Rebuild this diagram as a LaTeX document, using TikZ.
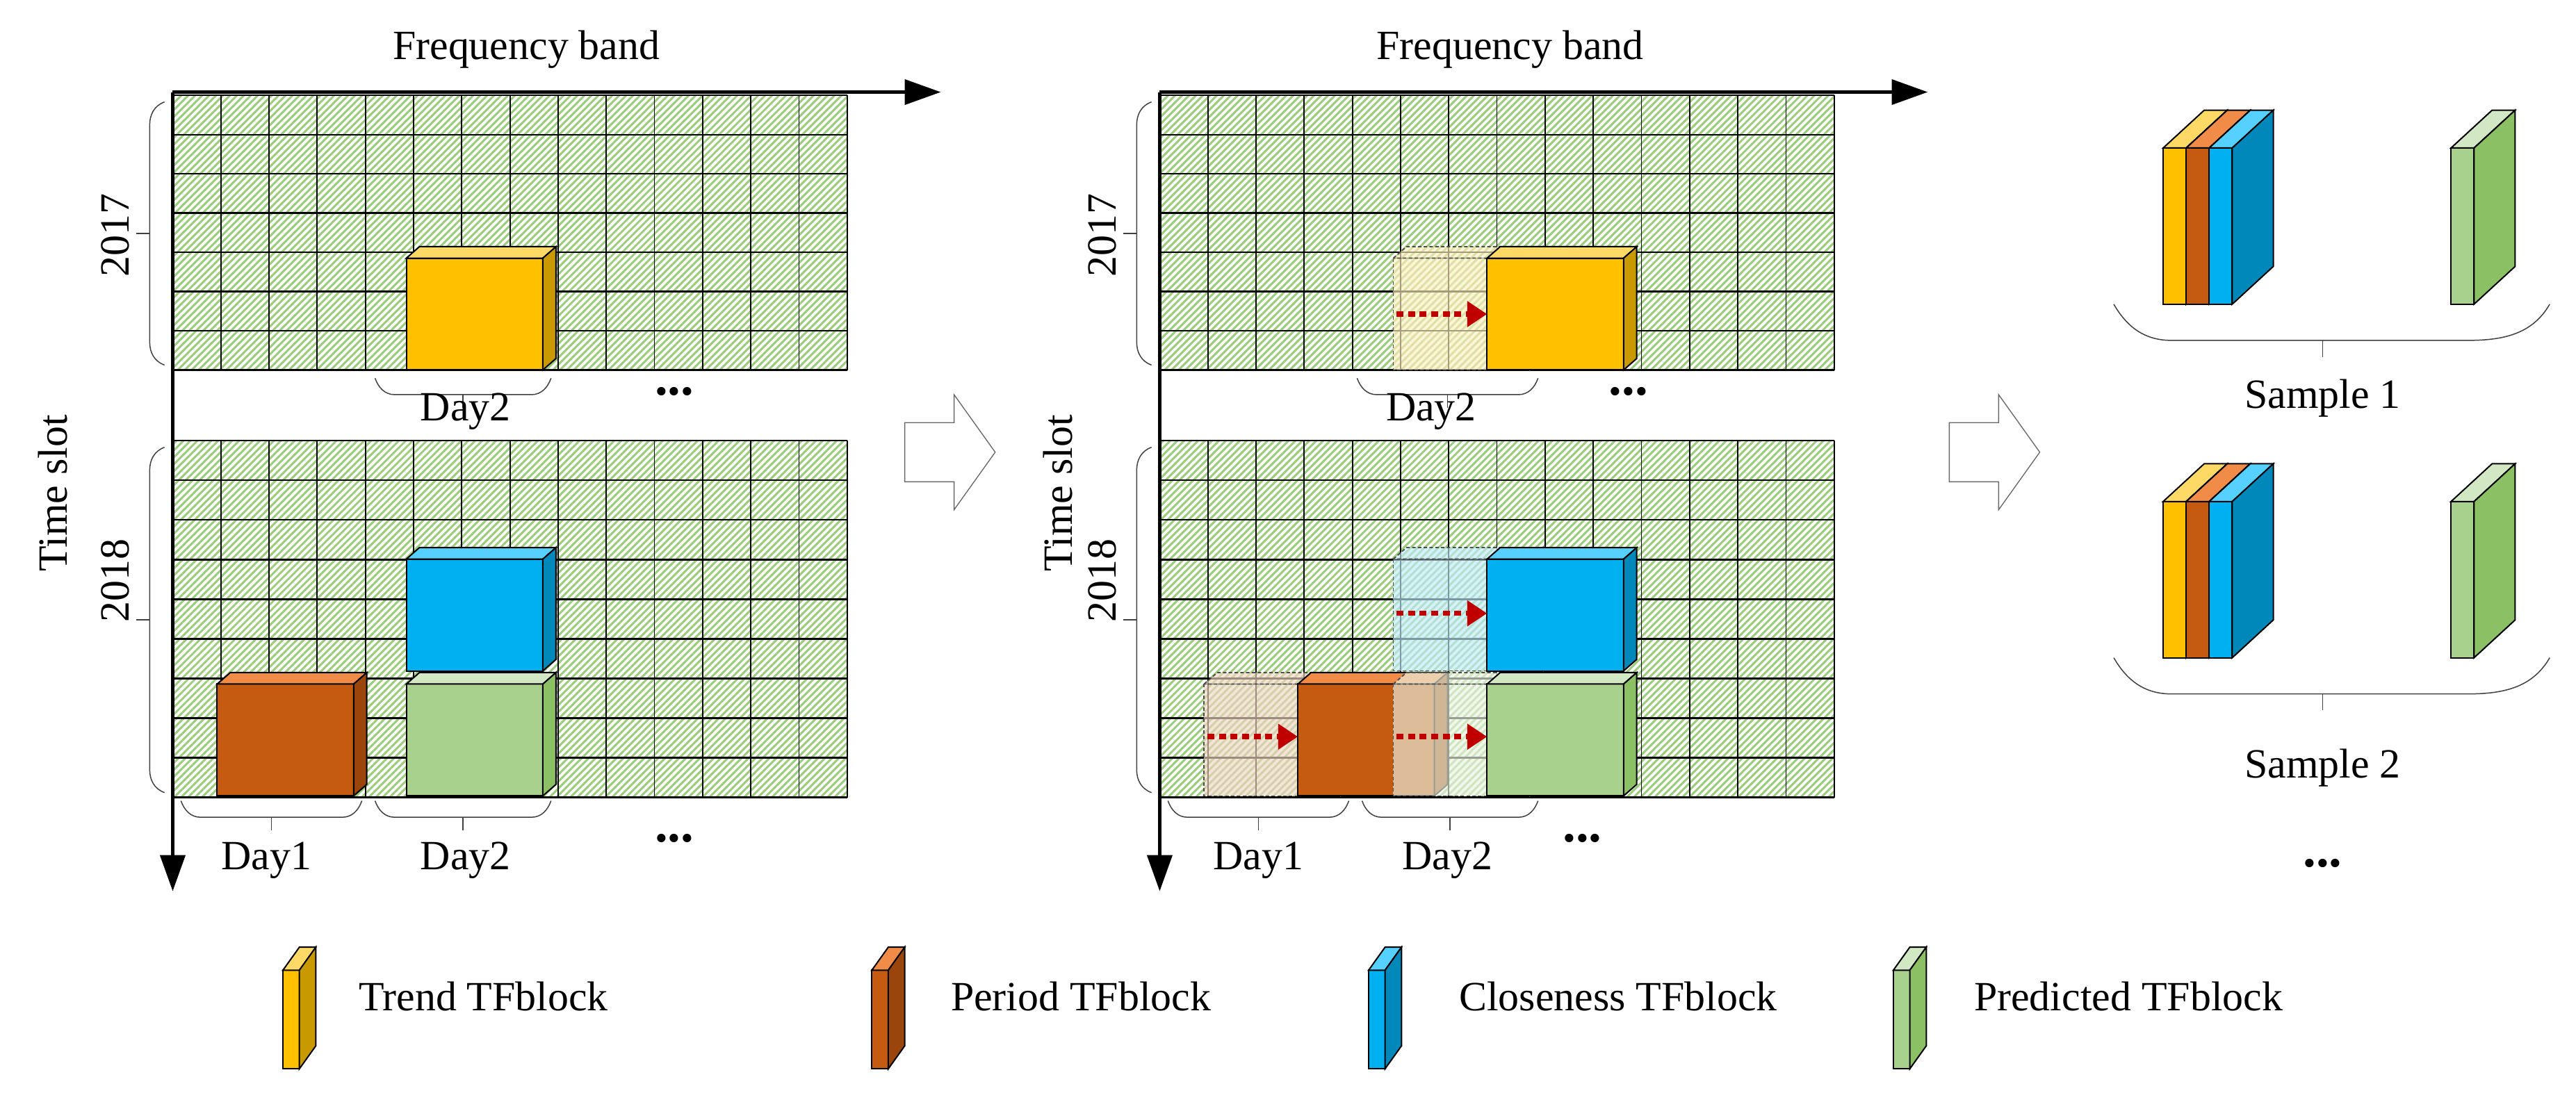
\documentclass[tikz,border=0pt]{standalone}
\usepackage{fontspec}
\setmainfont{Liberation Serif}
\usetikzlibrary{patterns.meta,arrows.meta}
\definecolor{yF}{HTML}{FFC000}\definecolor{yT}{HTML}{FFD966}\definecolor{yS}{HTML}{C99A00}
\definecolor{oF}{HTML}{C55A11}\definecolor{oT}{HTML}{F08C48}\definecolor{oS}{HTML}{9A450C}
\definecolor{bF}{HTML}{00B0F0}\definecolor{bT}{HTML}{55D0FF}\definecolor{bS}{HTML}{0088BB}
\definecolor{gF}{HTML}{A9D18E}\definecolor{gT}{HTML}{D2E8C4}\definecolor{gS}{HTML}{8CC064}
\definecolor{hatch}{HTML}{9ACC7A}\definecolor{darkred}{HTML}{C00000}
\newcommand\tfcube[9]{%
 \filldraw[draw=black,line width=2.4pt,fill=#7] (#1,#2) rectangle ++(#3,#4);
 \filldraw[draw=black,line width=2.4pt,fill=#8] (#1,#2) -- ++(#5,-#6) -- ++(#3,0) -- ++(-#5,#6) -- cycle;
 \filldraw[draw=black,line width=2.4pt,fill=#9] (#1+#3,#2) -- ++(#5,-#6) -- ++(0,#4) -- ++(-#5,#6) -- cycle;}
\newcommand\ghostcube[5]{%
 \filldraw[draw=black!70,dash pattern=on 6pt off 4pt,line width=2.2pt,fill=#5!25,fill opacity=0.65] (#1,#2) rectangle ++(#3,#4);
 \filldraw[draw=black!70,dash pattern=on 6pt off 4pt,line width=2.2pt,fill=#5!25,fill opacity=0.65] (#1,#2) -- ++(8,-7) -- ++(#3,0) -- ++(-8,7) -- cycle;
 \filldraw[draw=black!70,dash pattern=on 6pt off 4pt,line width=2.2pt,fill=#5!35,fill opacity=0.65] (#1+#3,#2) -- ++(8,-7) -- ++(0,#4) -- ++(-8,7) -- cycle;}
\newcommand\hgrid[4]{% x0, y0, rows, rowh
 \fill[white] (#1,#2) rectangle ++(410,#3*#4);
 \fill[pattern={Lines[angle=45,distance=8.5pt,line width=3.6pt]},pattern color=hatch] (#1,#2) rectangle ++(410,#3*#4);
 \foreach \i in {0,...,14} \draw[line width=2.2pt] (#1+\i*29.2857,#2) -- ++(0,#3*#4);
 \foreach \j in {0,...,#3} \draw[line width=2.8pt] (#1,#2+\j*#4) -- ++(410,0);}
\newcommand\hbrace[3]{% x1,x2,y
 \draw[line width=1.8pt,black!75] (#1,#3) to[out=-70,in=180] (#1+12,#3+10) -- (#2-12,#3+10) to[out=0,in=-110] (#2,#3);
 \draw[line width=1.8pt,black!75] ({(#1+#2)/2},#3+10) -- ++(0,8);}
\newcommand\vbrace[3]{% x,y1,y2
 \draw[line width=1.8pt,black!75] (#1,#2) to[out=200,in=90] (#1-9,#2+14) -- (#1-9,#3-14) to[out=-90,in=160] (#1,#3);
 \draw[line width=1.8pt,black!75] (#1-9,{(#2+#3)/2}) -- ++(-8,0);}
\newcommand\hollowarrow[2]{%
 \draw[line width=1.6pt,black!60,fill=white] (#1,#2-18) -- ++(30,0) -- ++(0,-17) -- ++(25,35) -- ++(-25,35) -- ++(0,-17) -- ++(-30,0) -- cycle;}
\tikzset{lbl/.style={font=\fontsize{72}{74}\selectfont,inner sep=0pt},
 dots/.style={font=\fontsize{90}{90}\selectfont\bfseries,inner sep=0pt},
 axis/.style={line width=7pt,-{Triangle[length=22mm,width=15mm]}},
 redarr/.style={darkred,line width=9pt,dash pattern=on 12pt off 8pt,-{Triangle[length=12mm,width=15mm]}}}
\begin{document}
\begin{tikzpicture}[x=1mm,y=-1mm]
\useasboundingbox[fill=white] (0,0) rectangle (1566,679.5);
% ---------- left panel
\hgrid{105}{58}{7}{23.86}
\hgrid{105}{268}{9}{24.1}
\tfcube{247}{157}{83}{68}{8}{7}{yF}{yT}{yS}
\tfcube{247}{340}{83}{68}{8}{7}{bF}{bT}{bS}
\tfcube{132}{416}{83}{68}{8}{7}{oF}{oT}{oS}
\tfcube{247}{416}{83}{68}{8}{7}{gF}{gT}{gS}
\coordinate (o1) at (105,56);\coordinate (r1) at (572,56);\coordinate (d1) at (105,542);
\draw[axis] (o1) -- (r1);\draw[axis] (o1) -- (d1);
\node[lbl] (fb1) at (320,30) {Frequency band};
\node[lbl,rotate=90] (ts1) at (32,300) {Time slot};
\vbrace{100}{62}{222}\vbrace{100}{272}{482}
\node[lbl,rotate=90] (y17a) at (70,143) {2017};
\node[lbl,rotate=90] (y18a) at (70,353) {2018};
\hbrace{228}{335}{230}\node[lbl] (d2a) at (283,250) {Day2};\node[dots] (ea) at (410,238) {...};
\hbrace{110}{220}{487}\node[lbl] (d1b) at (162,523) {Day1};
\hbrace{228}{335}{487}\node[lbl] (d2b) at (283,523) {Day2};\node[dots] (eb) at (410,510) {...};
\hollowarrow{550}{275}
% ---------- middle panel
\hgrid{705}{58}{7}{23.86}
\hgrid{705}{268}{9}{24.1}
\ghostcube{847}{157}{83}{68}{yF}
\tfcube{904}{157}{83}{68}{8}{7}{yF}{yT}{yS}
\ghostcube{847}{340}{83}{68}{bF}
\tfcube{904}{340}{83}{68}{8}{7}{bF}{bT}{bS}
\ghostcube{732}{416}{83}{68}{oF}
\tfcube{789}{416}{83}{68}{8}{7}{oF}{oT}{oS}
\ghostcube{847}{416}{83}{68}{gF}
\tfcube{904}{416}{83}{68}{8}{7}{gF}{gT}{gS}
\coordinate (a1s) at (849,191);\coordinate (a1e) at (904,191);\draw[redarr] (a1s) -- (a1e);
\coordinate (a2s) at (849,373);\coordinate (a2e) at (904,373);\draw[redarr] (a2s) -- (a2e);
\coordinate (a3s) at (734,448);\coordinate (a3e) at (789,448);\draw[redarr] (a3s) -- (a3e);
\coordinate (a4s) at (849,448);\coordinate (a4e) at (904,448);\draw[redarr] (a4s) -- (a4e);
\coordinate (o2) at (705,56);\coordinate (r2) at (1172,56);\coordinate (d2) at (705,542);
\draw[axis] (o2) -- (r2);\draw[axis] (o2) -- (d2);
\node[lbl] (fb2) at (918,30) {Frequency band};
\node[lbl,rotate=90] (ts2) at (643,300) {Time slot};
\vbrace{700}{62}{222}\vbrace{700}{272}{482}
\node[lbl,rotate=90] (y17b) at (670,143) {2017};
\node[lbl,rotate=90] (y18b) at (670,353) {2018};
\hbrace{825}{935}{230}\node[lbl] (d2c) at (870,250) {Day2};\node[dots] (ec) at (990,238) {...};
\hbrace{710}{820}{487}\node[lbl] (d1d) at (765,523) {Day1};
\hbrace{828}{935}{487}\node[lbl] (d2d) at (880,523) {Day2};\node[dots] (ed) at (962,510) {...};
\hollowarrow{1185}{275}
% ---------- right samples
\foreach \yy in {90,305}{
 \tfcube{1315}{\yy}{14}{95}{25}{23}{yF}{yT}{yS}
 \tfcube{1329}{\yy}{14}{95}{25}{23}{oF}{oT}{oS}
 \tfcube{1343}{\yy}{14}{95}{25}{23}{bF}{bT}{bS}
 \tfcube{1490}{\yy}{14}{95}{25}{23}{gF}{gT}{gS}
}
\draw[line width=1.8pt,black!75] (1285,185) to[out=-60,in=180] (1320,207) -- (1500,207) to[out=0,in=-120] (1550,185);
\draw[line width=1.8pt,black!75] (1412,207) -- ++(0,10);
\node[lbl] (s1) at (1412,242) {Sample 1};
\draw[line width=1.8pt,black!75] (1285,400) to[out=-60,in=180] (1320,422) -- (1500,422) to[out=0,in=-120] (1550,400);
\draw[line width=1.8pt,black!75] (1412,422) -- ++(0,10);
\node[lbl] (s2) at (1412,467) {Sample 2};
\node[dots] (es) at (1412,525) {...};
% ---------- legend
\tfcube{172}{590}{10}{60}{10}{14}{yF}{yT}{yS}
\node[lbl,anchor=west] (l1) at (218,606) {Trend TFblock};
\tfcube{530}{590}{10}{60}{10}{14}{oF}{oT}{oS}
\node[lbl,anchor=west] (l2) at (578,606) {Period TFblock};
\tfcube{832}{590}{10}{60}{10}{14}{bF}{bT}{bS}
\node[lbl,anchor=west] (l3) at (887,606) {Closeness TFblock};
\tfcube{1151}{590}{10}{60}{10}{14}{gF}{gT}{gS}
\node[lbl,anchor=west] (l4) at (1200,606) {Predicted TFblock};
\end{tikzpicture}
\end{document}
